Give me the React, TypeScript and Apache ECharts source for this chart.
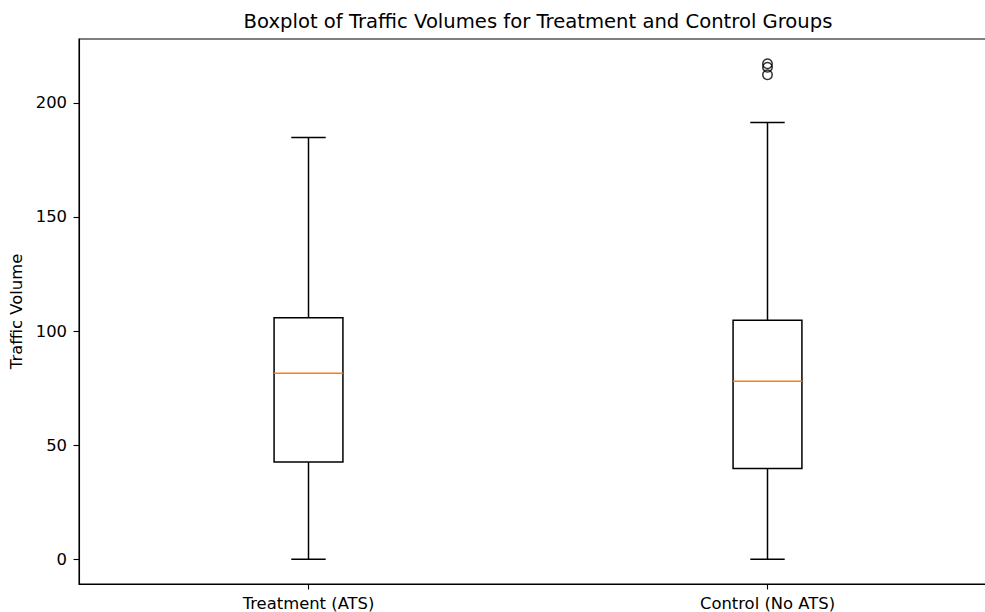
import React, { useEffect, useRef } from "react";
import * as echarts from "echarts";

const categories = ["Treatment (ATS)", "Control (No ATS)"];
// [low whisker, Q1, median, Q3, high whisker]
const treatmentStats = [0, 42.6, 81.5, 105.8, 184.8];
const controlStats = [0, 39.8, 78.0, 104.7, 191.4];
const controlOutliers = [217.1, 215.6, 212.3];
const yTicks = [0, 50, 100, 150, 200];

const FONT = "DejaVu Sans";

export default function App() {
  const ref = useRef<HTMLDivElement>(null);
  useEffect(() => {
    if (!ref.current) return;
    const chart = echarts.init(ref.current, null, { renderer: "svg" });
    const dataMax = Math.max(...controlOutliers, treatmentStats[4], controlStats[4]);
    const dataMin = Math.min(treatmentStats[0], controlStats[0]);
    const pad = (dataMax - dataMin) * 0.05;
    const boxData = [
      [0, ...treatmentStats],
      [1, ...controlStats],
    ];
    const outlierData = controlOutliers.map((v) => [1, v]);
    const lw = 1.5;
    chart.setOption({
      animation: false,
      grid: {
        left: 79,
        width: 918,
        top: 39,
        height: 545,
        show: true,
        borderColor: "#000",
        borderWidth: 1.1,
        containLabel: false,
        outerBoundsMode: "none",
      },
      graphic: [
        {
          type: "text",
          x: 538,
          y: 11,
          style: {
            text: "Boxplot of Traffic Volumes for Treatment and Control Groups",
            font: `19.6px "${FONT}"`,
            fill: "#000",
            textAlign: "center",
          },
        },
      ],
      xAxis: {
        type: "category",
        data: categories,
        boundaryGap: true,
        axisLine: { show: true, onZero: false, lineStyle: { color: "#000", width: 1.1 } },
        axisTick: { show: true, alignWithLabel: true, length: 5.5, lineStyle: { color: "#000", width: 1.1 } },
        axisLabel: { color: "#000", fontFamily: FONT, fontSize: 16.4, margin: 11 },
        splitLine: { show: false },
      },
      yAxis: {
        type: "value",
        min: dataMin - pad,
        max: dataMax + pad,
        name: "Traffic Volume",
        nameLocation: "middle",
        nameGap: 54,
        nameRotate: 90,
        nameTextStyle: { color: "#000", fontFamily: FONT, fontSize: 16.4 },
        axisLine: { show: true, lineStyle: { color: "#000", width: 1.1 } },
        axisTick: { show: true, length: 5.5, customValues: yTicks, lineStyle: { color: "#000", width: 1.1 } },
        axisLabel: {
          color: "#000",
          fontFamily: FONT,
          fontSize: 16.4,
          margin: 12,
          customValues: yTicks,
        },
        splitLine: { show: false },
      },
      series: [
        {
          type: "custom",
          data: boxData,
          encode: { x: 0, y: [1, 2, 3, 4, 5] },
          renderItem: (params: any, api: any) => {
            const idx = api.value(0);
            const band = api.size([1, 0])[0];
            const bw = band * 0.15;
            const cw = bw / 2;
            const pLow = api.coord([idx, api.value(1)]);
            const pQ1 = api.coord([idx, api.value(2)]);
            const pMed = api.coord([idx, api.value(3)]);
            const pQ3 = api.coord([idx, api.value(4)]);
            const pHigh = api.coord([idx, api.value(5)]);
            const cx = pLow[0];
            const stroke = { stroke: "#000", lineWidth: lw };
            return {
              type: "group",
              children: [
                { type: "line", shape: { x1: cx, y1: pLow[1], x2: cx, y2: pQ1[1] }, style: stroke },
                { type: "line", shape: { x1: cx, y1: pQ3[1], x2: cx, y2: pHigh[1] }, style: stroke },
                { type: "line", shape: { x1: cx - cw / 2, y1: pLow[1], x2: cx + cw / 2, y2: pLow[1] }, style: stroke },
                { type: "line", shape: { x1: cx - cw / 2, y1: pHigh[1], x2: cx + cw / 2, y2: pHigh[1] }, style: stroke },
                {
                  type: "rect",
                  shape: { x: cx - bw / 2, y: pQ3[1], width: bw, height: pQ1[1] - pQ3[1] },
                  style: { fill: "rgba(0,0,0,0)", stroke: "#000", lineWidth: lw },
                },
                {
                  type: "line",
                  shape: { x1: cx - bw / 2, y1: pMed[1], x2: cx + bw / 2, y2: pMed[1] },
                  style: { stroke: "#ff7f0e", lineWidth: lw },
                },
              ],
            };
          },
        },
        {
          type: "scatter",
          data: outlierData,
          symbol: "circle",
          symbolSize: 9.5,
          itemStyle: { color: "rgba(0,0,0,0)", borderColor: "#000", borderWidth: 1.5 },
          emphasis: { disabled: true },
        },
      ],
    });
    return () => chart.dispose();
  }, []);
  return (
    <div
      ref={ref}
      style={{ position: "fixed", left: 0, top: 0, width: 985, height: 612, overflow: "hidden", background: "#fff" }}
    />
  );
}
